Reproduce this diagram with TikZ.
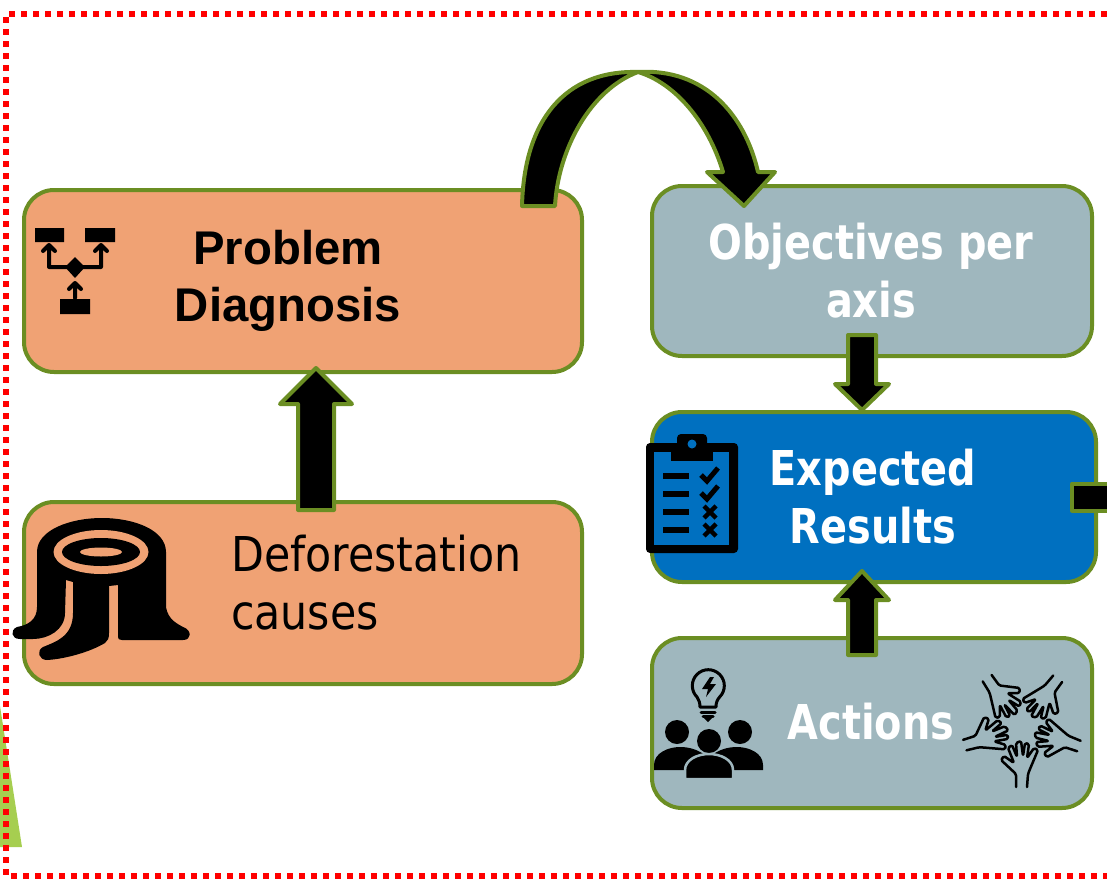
\documentclass[tikz,border=0pt]{standalone}
\usepackage{fontspec}
\usetikzlibrary{calc}
\setmainfont{Liberation Sans}
\newfontfamily\tahoma[FakeStretch=0.89,BoldFeatures={FakeStretch=0.83}]{DejaVu Sans}
\definecolor{olive}{RGB}{107,142,35}
\definecolor{salmon}{RGB}{240,162,116}
\definecolor{slate}{RGB}{159,183,190}
\definecolor{royal}{RGB}{0,112,192}
\definecolor{lime}{RGB}{166,206,80}
\tikzset{
  fat/.style={draw=olive,fill=black,line width=4pt,line join=round},
  boxlabel/.style={inner sep=0pt,align=center},
  biglabel/.style={boxlabel,font=\fontsize{48}{58}\selectfont\tahoma\bfseries,text=white},
  thin icon/.style={draw=black,line width=3pt,line cap=round,line join=round},
}
\newcommand{\fatarrow}[5]{
  \coordinate (hb) at ($(#2)!#5pt!(#1)$);
  \draw[fat] ($(#1)!#3pt!90:(#2)$) -- ($(hb)!#3pt!90:(#2)$) -- ($(hb)!#4pt!90:(#2)$) -- (#2)
    -- ($(hb)!#4pt!-90:(#2)$) -- ($(hb)!#3pt!-90:(#2)$) -- ($(#1)!#3pt!-90:(#2)$) -- cycle;
}
\begin{document}
\begin{tikzpicture}[x=1pt,y=-1pt]
\useasboundingbox (0,0) rectangle (1107,878);

\fill[lime] (0,706) -- (22,847) -- (0,847) -- cycle;
\draw[red,line width=6pt,dash pattern=on 6pt off 6pt] (1107,14) -- (6,14) -- (6,876) -- (1107,876);

\begin{scope}[every node/.style={draw=olive,line width=4pt,rounded corners=30pt,outer sep=0pt,inner sep=0pt}]
    \node[fill=salmon,minimum width=558pt,minimum height=182pt] (diagnosis) at (303,281) {};
    \node[fill=salmon,minimum width=558pt,minimum height=182pt] (causes) at (303,593) {};
    \node[fill=slate,minimum width=440pt,minimum height=170pt] (objectives) at (872,271) {};
    \node[fill=royal,minimum width=444pt,minimum height=170pt] (results) at (874,497) {};
    \node[fill=slate,minimum width=440pt,minimum height=170pt] (actions) at (872,723) {};
\end{scope}

\coordinate (causes out) at ($(causes.north)+(13,8)$);
\coordinate (diagnosis in) at ($(diagnosis.south)+(13,-4)$);
\coordinate (objectives out) at ($(objectives.south)+(-10,-21)$);
\coordinate (results top) at ($(results.north)+(-12,-2)$);
\coordinate (actions out) at ($(actions.north)+(-10,17)$);
\coordinate (results low) at ($(results.south)+(-12,-11)$);

\fatarrow{causes out}{diagnosis in}{18}{36}{36}
\fatarrow{objectives out}{results top}{14}{27}{26}
\fatarrow{actions out}{results low}{14}{27}{29}

\draw[fat] ($(results.east)+(-24,-13.5)$) rectangle ($(results.east)+(20,13.5)$);

\draw[fat] ($(diagnosis.north)+(219,16)$) .. controls (524,120) and (565,70) .. (638,72)
    .. controls (705,68) and (745,115) .. (758,172) -- (775,172) -- ($(objectives.north)+(-128,20)$)
    -- (707,172) -- (723,172) .. controls (708,122) and (675,83) .. (638,72)
    .. controls (590,90) and (558,150) .. ($(diagnosis.north)+(252,16)$) -- cycle;

\node[boxlabel,font=\fontsize{47.3}{57}\selectfont\bfseries] (diagnosis label) at (288,281) {Problem\\Diagnosis};
\node[boxlabel,font=\fontsize{48}{58}\selectfont\tahoma,align=left,anchor=west] (causes label) at (231,583) {Deforestation\\causes};
\node[biglabel] (objectives label) at (871,271) {Objectives per\\axis};
\node[biglabel] (results label) at (873,497) {Expected\\Results};
\node[biglabel] (actions label) at (871,722) {Actions};

\fill[black] (35,228) rectangle (64,242) (85,228) rectangle (115,242) (60,299) rectangle (90,314);
\fill[black] (75,257) -- (85,267) -- (75,278) -- (65,267) -- cycle;
\draw[thin icon,line width=4pt] (49,245) -- (49,267) -- (101,267) -- (101,245) (43,251) -- (49,245) -- (55,251) (95,251) -- (101,245) -- (107,251);
\draw[thin icon,line width=4pt] (75,298) -- (75,283) (69,289) -- (75,283) -- (81,289);

\fill[black] (37,552) .. controls (37,530) and (70,518) .. (102,518) .. controls (134,518) and (166,530) .. (166,552)
    -- (166,607) .. controls (168,620) and (178,624) .. (183,627) .. controls (192,630) and (192,640) .. (183,640)
    -- (122,640) .. controls (119,640) and (118,639) .. (118,637) -- (118,585) -- (109,586) -- (109,633)
    .. controls (109,638) and (108,641) .. (105,643) .. controls (90,652) and (65,659) .. (47,660)
    .. controls (39,660) and (36,651) .. (43,647) .. controls (55,642) and (73,637) .. (73,613) -- (73,582) -- (66,580)
    -- (65,613) .. controls (65,630) and (48,639) .. (33,639) -- (20,639) .. controls (11,639) and (10,630) .. (17,627)
    .. controls (28,625) and (37,620) .. (37,607) -- cycle;
\fill[salmon] (101,552) ellipse [x radius=47.5,y radius=22];
\fill[black] (101,552) ellipse [x radius=39,y radius=14];
\fill[salmon] (101,552) ellipse [x radius=21,y radius=4.5];

\fill[black,rounded corners=4pt] (646,443) rectangle (738,553);
\fill[royal] (654,452) rectangle (729,545);
\fill[black,rounded corners=4pt] (677,434) rectangle (707,455);
\fill[black] (671,450) rectangle (713,461);
\fill[royal] (692,444) circle [radius=4.5];
\foreach \ypos in {476,494,512,530} {
    \fill[black] (663,\ypos-3) rectangle (689,\ypos+3);
}
\foreach \ypos in {0,18} {
    \draw[black,line width=5pt] (701,475+\ypos) -- (707,481+\ypos) -- (718,468+\ypos);
}
\foreach \ypos in {512,530} {
    \draw[black,line width=4.5pt] (704,\ypos-6) -- (716,\ypos+6) (704,\ypos+6) -- (716,\ypos-6);
}

\draw[thin icon] (700,707) .. controls (700,703) and (699,700) .. (697,697) arc[start angle=135,end angle=405,radius=16]
    .. controls (717,700) and (716,703) .. (716,707) -- cycle;
\draw[thin icon] (701,712) -- (715,712) (703,716) -- (713,716);
\fill[black] (704,718) -- (712,718) -- (708,722) -- cycle;
\fill[black] (710,677) -- (702,689) -- (708,689) -- (706,697) -- (716,684) -- (710,684) -- (714,677) -- cycle;
\fill[black] (677,732) circle [radius=12] (740,732) circle [radius=12] (709,741) circle [radius=12];
\fill[black] (654,770) -- (654,765) .. controls (654,753) and (668,747) .. (680,747) .. controls (690,747) and (698,750) .. (705,755) -- (705,770) -- cycle;
\fill[black] (763,770) -- (763,765) .. controls (763,753) and (749,747) .. (737,747) .. controls (727,747) and (719,750) .. (712,755) -- (712,770) -- cycle;
\draw[fill=black,draw=slate,line width=2.5pt] (685,779) -- (685,770) .. controls (685,760) and (697,754) .. (709,754) .. controls (721,754) and (733,760) .. (733,770) -- (733,779) -- cycle;

\foreach \rot in {0,72,144,216,288} {
    \begin{scope}[shift={(1022,727)},rotate=\rot]
        \draw[thin icon,line width=2.5pt,rounded corners=1.5pt] (-6,60) -- (-6,47) -- (-21,33) -- (-18,29) -- (-8,36) -- (-14,21) -- (-10,18) -- (-5,30) -- (-6,16) -- (-1,14) -- (1,29) -- (3,16) -- (7,17) -- (5,31) -- (12,21) -- (16,23) -- (8,42) -- (6,47) -- (5,60);
    \end{scope}
}
\end{tikzpicture}
\end{document}
